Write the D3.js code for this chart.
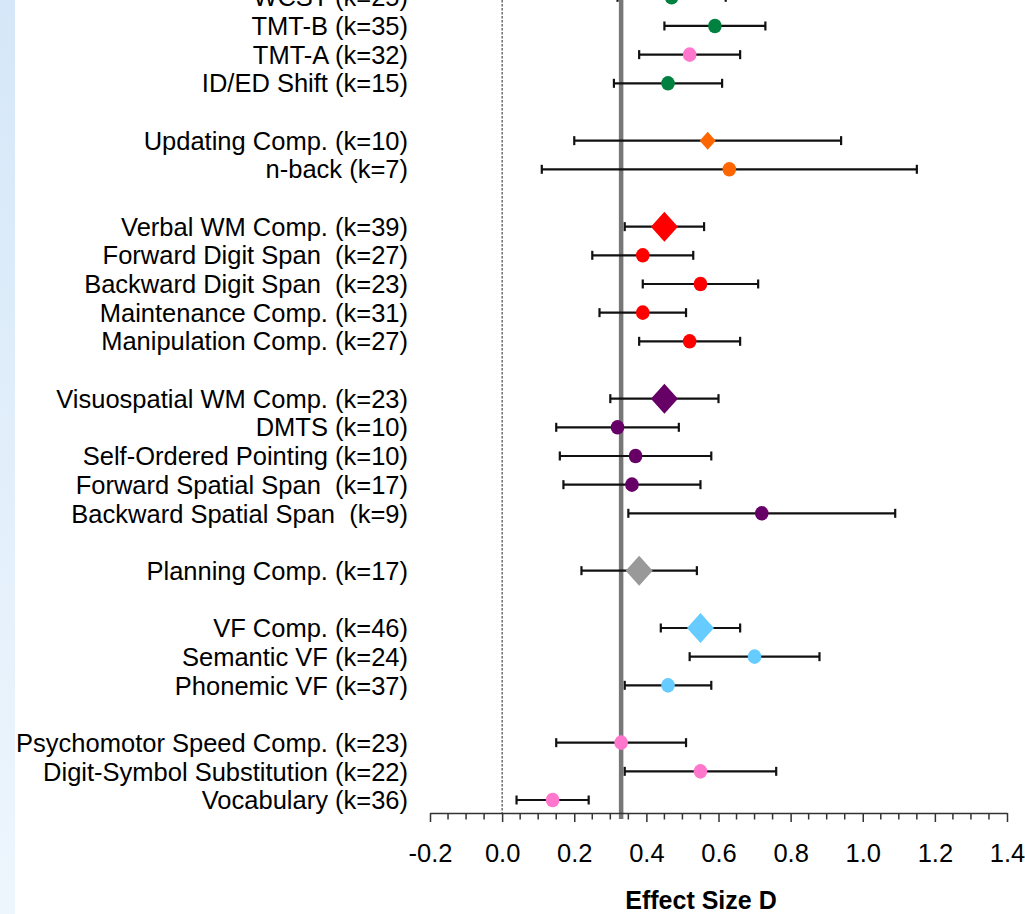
<!DOCTYPE html>
<html>
<head>
<meta charset="utf-8">
<script src="https://cdn.jsdelivr.net/npm/d3@7"></script>
<style>
  html, body { margin: 0; padding: 0; background: #ffffff; }
  svg { display: block; font-family: "Liberation Sans", Arial, sans-serif; }
  .row-label { white-space: pre; }
</style>
</head>
<body>
<svg id="chart" width="1025" height="914"></svg>
<script>
// Forest plot of effect sizes (Cohen's d) with 95% confidence intervals.
const labels = [
  "WCST", "TMT-B", "TMT-A", "ID/ED Shift",
  "Updating Comp.", "n-back",
  "Verbal WM Comp.", "Forward Digit Span ", "Backward Digit Span ", "Maintenance Comp.", "Manipulation Comp.",
  "Visuospatial WM Comp.", "DMTS", "Self-Ordered Pointing", "Forward Spatial Span ", "Backward Spatial Span ",
  "Planning Comp.",
  "VF Comp.", "Semantic VF", "Phonemic VF",
  "Psychomotor Speed Comp.", "Digit-Symbol Substitution", "Vocabulary"
];
const kStudies = [25, 35, 32, 15, 10, 7, 39, 27, 23, 31, 27, 23, 10, 10, 17, 9, 17, 46, 24, 37, 23, 22, 36];
const effect   = [0.47, 0.59, 0.52, 0.46, 0.57, 0.63, 0.45, 0.39, 0.55, 0.39, 0.52, 0.45, 0.32, 0.37, 0.36, 0.72, 0.38, 0.55, 0.70, 0.46, 0.33, 0.55, 0.14];
const ciLower  = [0.32, 0.45, 0.38, 0.31, 0.20, 0.11, 0.34, 0.25, 0.39, 0.27, 0.38, 0.30, 0.15, 0.16, 0.17, 0.35, 0.22, 0.44, 0.52, 0.34, 0.15, 0.34, 0.04];
const ciUpper  = [0.62, 0.73, 0.66, 0.61, 0.94, 1.15, 0.56, 0.53, 0.71, 0.51, 0.66, 0.60, 0.49, 0.58, 0.55, 1.09, 0.54, 0.66, 0.88, 0.58, 0.51, 0.76, 0.24];
const domainGroup = [
  "shifting", "shifting", "shifting", "shifting",
  "updating", "updating",
  "verbalWM", "verbalWM", "verbalWM", "verbalWM", "verbalWM",
  "spatialWM", "spatialWM", "spatialWM", "spatialWM", "spatialWM",
  "planning",
  "fluency", "fluency", "fluency",
  "speed", "speed", "speed"
];
const markerColor = [
  "green", "green", "pink", "green",
  "orange", "orange",
  "red", "red", "red", "red", "red",
  "purple", "purple", "purple", "purple", "purple",
  "gray",
  "blue", "blue", "blue",
  "pink", "pink", "pink"
];
const compositeRows = ["Updating Comp.", "Verbal WM Comp.", "Visuospatial WM Comp.", "Planning Comp.", "VF Comp."];
const overallEffect = 0.33;
const majorTicks = [-0.2, 0.0, 0.2, 0.4, 0.6, 0.8, 1.0, 1.2, 1.4];
const xDomain = [-0.2, 1.4];

const palette = {
  green: "#00813f", pink: "#ff77cc", orange: "#ff6600", red: "#ff0000",
  purple: "#660066", gray: "#999999", blue: "#66ccff"
};

const svg = d3.select("#chart");
const W = 1025, H = 914;

// pale blue band along the left edge
const defs = svg.append("defs");
const grad = defs.append("linearGradient").attr("id", "edge").attr("x1", 0).attr("y1", 0).attr("x2", 0).attr("y2", 1);
grad.append("stop").attr("offset", "0%").attr("stop-color", "#d5e7f8");
grad.append("stop").attr("offset", "100%").attr("stop-color", "#eef6fd");
svg.append("rect").attr("x", 0).attr("y", 0).attr("width", 15).attr("height", H).attr("fill", "url(#edge)");

// slot index per row, leaving an empty slot between groups
const rows = [];
let slot = 0;
labels.forEach((name, i) => {
  if (i > 0 && domainGroup[i] !== domainGroup[i - 1]) slot += 1;
  rows.push({
    name, k: kStudies[i], d: effect[i], lo: ciLower[i], hi: ciUpper[i],
    color: palette[markerColor[i]], slot,
    composite: compositeRows.includes(name)
  });
  slot += 1;
});
const lastSlot = slot - 1;

const x = d3.scaleLinear().domain(xDomain).range([430, 1007]);
const y = d3.scaleLinear().domain([0, lastSlot]).range([-2.7, 800]);
const axisY = 813;

// reference line at zero
svg.append("line")
  .attr("x1", x(0)).attr("x2", x(0)).attr("y1", 0).attr("y2", axisY)
  .attr("stroke", "#222").attr("stroke-width", 1).attr("stroke-dasharray", "2.5,1.5");

// overall mean effect
svg.append("line")
  .attr("x1", x(overallEffect)).attr("x2", x(overallEffect)).attr("y1", 0).attr("y2", axisY + 6)
  .attr("stroke", "#777777").attr("stroke-width", 4.5);

// confidence intervals
const ci = svg.append("g").selectAll("g").data(rows).join("g");
ci.append("line")
  .attr("x1", d => x(d.lo)).attr("x2", d => x(d.hi))
  .attr("y1", d => y(d.slot)).attr("y2", d => y(d.slot))
  .attr("stroke", "#111").attr("stroke-width", 2.2);
["lo", "hi"].forEach(key => {
  ci.append("line")
    .attr("x1", d => x(d[key])).attr("x2", d => x(d[key]))
    .attr("y1", d => y(d.slot) - 4.5).attr("y2", d => y(d.slot) + 4.5)
    .attr("stroke", "#111").attr("stroke-width", 2.2);
});

// point estimates: diamonds for composites, dots for single tasks
const diamond = (cx, cy, hw, hh) => `M${cx},${cy - hh}L${cx + hw},${cy}L${cx},${cy + hh}L${cx - hw},${cy}Z`;
svg.append("g").selectAll("path").data(rows.filter(r => r.composite)).join("path")
  .attr("d", d => {
    const small = d.name === "Updating Comp.";
    return diamond(x(d.d), y(d.slot), small ? 8 : 13.5, small ? 9 : 15);
  })
  .attr("fill", d => d.color);
svg.append("g").selectAll("ellipse").data(rows.filter(r => !r.composite)).join("ellipse")
  .attr("cx", d => x(d.d)).attr("cy", d => y(d.slot))
  .attr("rx", 6.8).attr("ry", 7.3)
  .attr("fill", d => d.color);

// row labels
svg.append("g").selectAll("text").data(rows).join("text")
  .attr("class", "row-label")
  .attr("x", 408).attr("y", d => y(d.slot))
  .attr("dy", "0.36em")
  .attr("text-anchor", "end")
  .attr("font-size", 25.5)
  .attr("fill", "#000")
  .text(d => `${d.name} (k=${d.k})`);

// x axis with major and minor ticks
const axisG = svg.append("g").attr("transform", `translate(0,${axisY})`);
axisG.call(
  d3.axisBottom(x)
    .tickValues(majorTicks)
    .tickSize(9)
    .tickSizeOuter(0)
    .tickPadding(22)
    .tickFormat(v => v.toFixed(1))
);
axisG.select(".domain").attr("stroke", "#333").attr("stroke-width", 1.5);
axisG.selectAll(".tick line").attr("stroke", "#333").attr("stroke-width", 1.5);
axisG.selectAll(".tick text")
  .attr("font-size", 25.5)
  .attr("font-family", "\"Liberation Sans\", Arial, sans-serif")
  .attr("fill", "#000");
const minorTicks = d3.range(-0.2, 1.4001, 0.05).filter(v => !majorTicks.some(m => Math.abs(m - v) < 1e-6));
axisG.selectAll(".minor").data(minorTicks).join("line")
  .attr("class", "minor")
  .attr("x1", d => x(d)).attr("x2", d => x(d))
  .attr("y1", 0).attr("y2", 6.5)
  .attr("stroke", "#333").attr("stroke-width", 1.5);

// axis title
svg.append("text")
  .attr("x", 701).attr("y", 909)
  .attr("text-anchor", "middle")
  .attr("font-size", 25).attr("font-weight", "bold")
  .attr("fill", "#000")
  .text("Effect Size D");
</script>
</body>
</html>
